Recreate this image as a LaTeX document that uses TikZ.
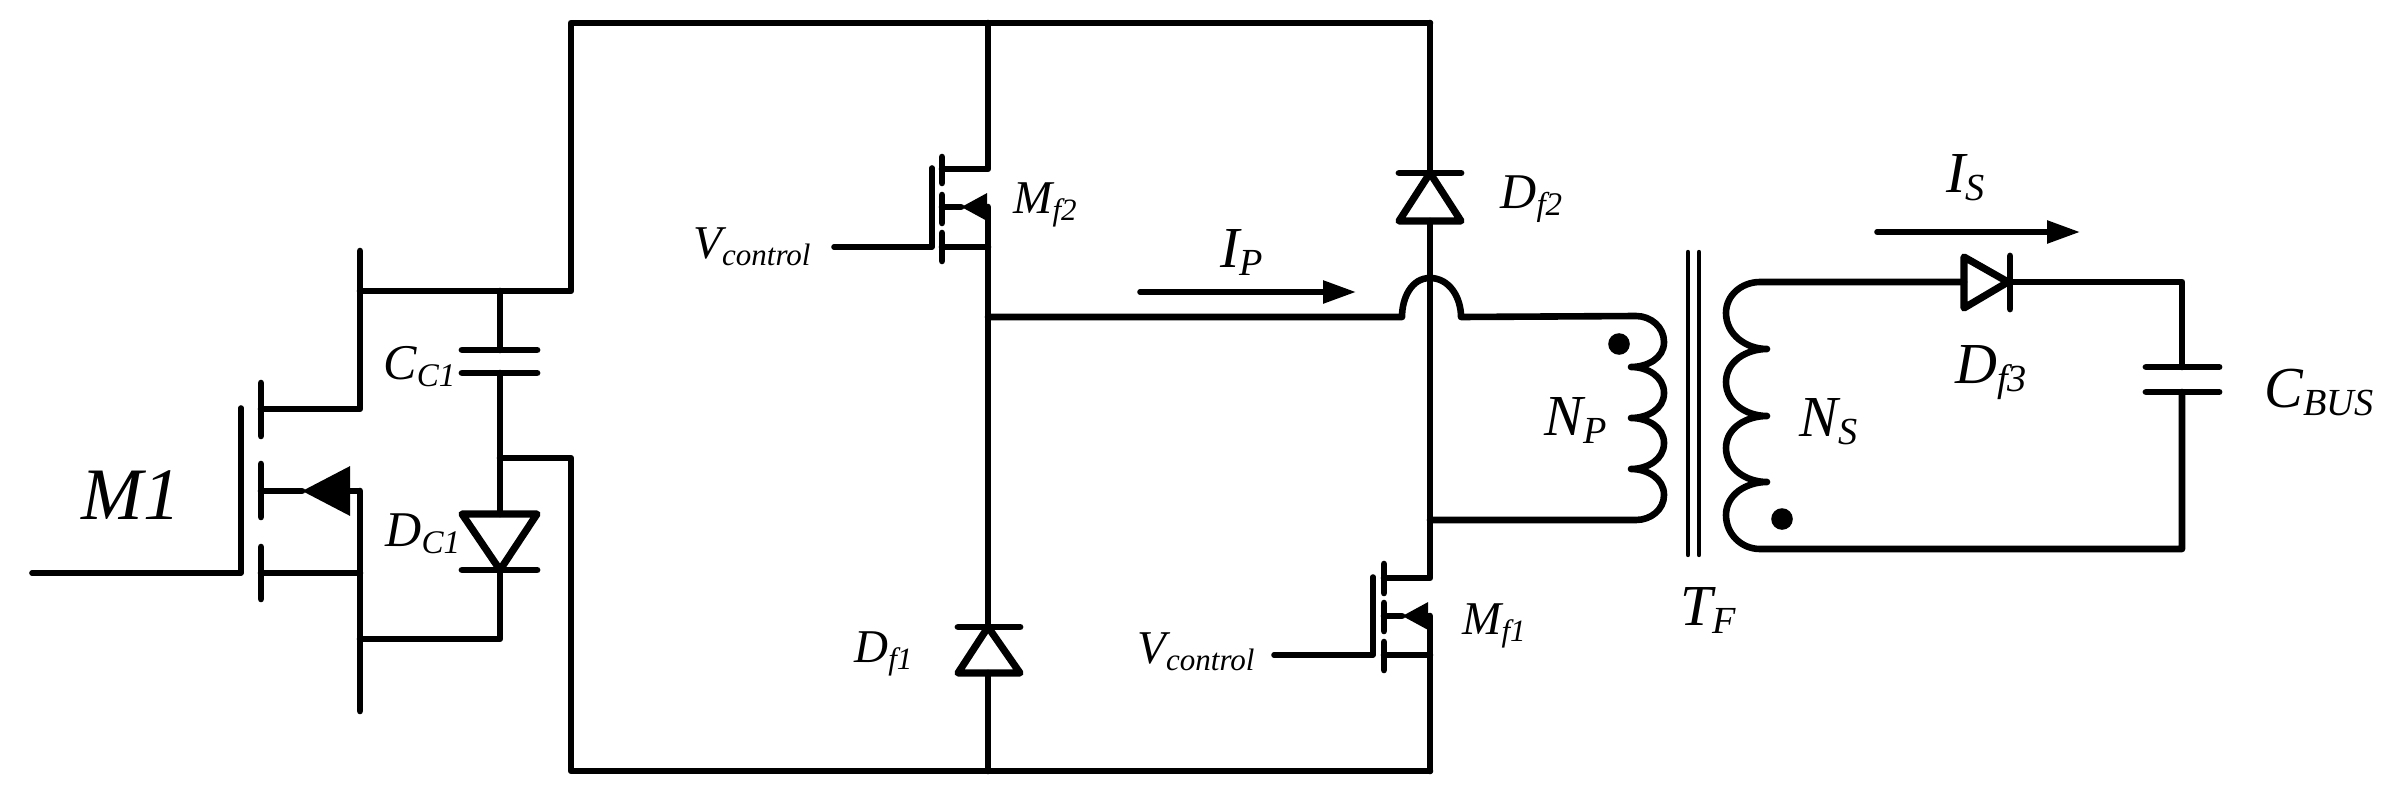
\documentclass[tikz,border=0pt]{standalone}
\usepackage{fontspec}
\setmainfont{Liberation Serif}
\usetikzlibrary{arrows.meta}
\newcommand{\lab}[2]{#1\raisebox{-0.15em}{\scalebox{0.66}{#2}}}

\begin{document}
\begin{tikzpicture}[x=0.5pt, y=-0.5pt,
    wire/.style={line width=3.3pt, line cap=round, line join=round},
    gatewire/.style={line width=2.8pt, line cap=round, line join=round},
    plate/.style={line width=3.4pt, line cap=round},
    diode/.style={line width=3.6pt, line join=round},
    coreline/.style={line width=2.2pt, line cap=round},
    current/.style={line width=2.8pt, line cap=round, -{Triangle[length=16.5pt, width=11pt]}},
    bodyS/.style={line width=3pt, -{Triangle[length=13pt, width=13pt]}},
    bodyL/.style={line width=3.3pt, -{Triangle[length=24pt, width=24pt]}},
    txt/.style={inner sep=0pt, anchor=base west, font=\itshape\fontsize{23.5}{24}\selectfont},
    txtm/.style={txt, font=\itshape\fontsize{25}{26}\selectfont},
    txtl/.style={txt, font=\itshape\fontsize{29}{30}\selectfont}]
\useasboundingbox (0,0) rectangle (2386,797);

% Rails
\coordinate (topl) at (571,23);
\coordinate (topm) at (988,23);
\coordinate (topr) at (1430,23);
\coordinate (botl) at (571,771);
\coordinate (botm) at (988,771);
\coordinate (botr) at (1430,771);
\coordinate (upl) at (571,291);
\coordinate (lowl) at (571,458);

% M1
\coordinate (gin) at (32,573);
\coordinate (gcor) at (241,573);
\coordinate (gtop) at (241,408);
\coordinate (cha) at (261,383);
\coordinate (chb) at (261,436);
\coordinate (chc) at (261,464);
\coordinate (chd) at (261,517);
\coordinate (che) at (261,547);
\coordinate (chf) at (261,599);
\coordinate (dch) at (261,409);
\coordinate (dcor) at (360,409);
\coordinate (dtop) at (360,251);
\coordinate (dup) at (360,291);
\coordinate (bch) at (261,491);
\coordinate (btip) at (302,491);
\coordinate (bsrc) at (360,491);
\coordinate (sch) at (261,573);
\coordinate (ssrc) at (360,573);
\coordinate (sbot) at (360,711);
\coordinate (slow) at (360,639);

\draw[gatewire] (gin) -- (gcor) -- (gtop);
\draw[wire] (cha) -- (chb);
\draw[wire] (chc) -- (chd);
\draw[wire] (che) -- (chf);
\draw[wire] (dch) -- (dcor) -- (dtop);
\draw[wire] (bch) -- (btip);
\draw[bodyL] (bsrc) -- (btip);
\draw[wire] (bsrc) -- (sbot);
\draw[wire] (sch) -- (ssrc);

% Clamp branch
\coordinate (ctop) at (500,291);
\coordinate (cpa) at (500,350);
\coordinate (cpb) at (500,373);
\coordinate (cpal) at (462,350);
\coordinate (cpar) at (537,350);
\coordinate (cpbl) at (462,373);
\coordinate (cpbr) at (537,373);
\coordinate (cmid) at (500,458);
\coordinate (dal) at (462,514);
\coordinate (dar) at (537,514);
\coordinate (dat) at (500,514);
\coordinate (dak) at (500,570);
\coordinate (dkl) at (462,570);
\coordinate (dkr) at (537,570);
\coordinate (cbot) at (500,639);

\draw[wire] (dup) -- (upl) -- (topl) -- (topr);
\draw[wire] (ctop) -- (cpa);
\draw[plate] (cpal) -- (cpar);
\draw[plate] (cpbl) -- (cpbr);
\draw[wire] (cpb) -- (dat);
\draw[diode] (dal) -- (dar) -- (dak) -- cycle;
\draw[plate] (dkl) -- (dkr);
\draw[wire] (dak) -- (cbot) -- (slow);
\draw[wire] (cmid) -- (lowl) -- (botl) -- (botr);

% Mf2
\coordinate (vtwo) at (834,247);
\coordinate (gtwo) at (932,247);
\coordinate (gtwot) at (932,168);
\coordinate (twa) at (942,157);
\coordinate (twb) at (942,183);
\coordinate (twc) at (942,195);
\coordinate (twd) at (942,223);
\coordinate (twe) at (942,233);
\coordinate (twf) at (942,261);
\coordinate (twdr) at (942,169);
\coordinate (twdw) at (988,169);
\coordinate (twbo) at (942,207);
\coordinate (twti) at (961,207);
\coordinate (twbw) at (988,207);
\coordinate (twso) at (942,247);
\coordinate (twsw) at (988,247);

\draw[gatewire] (vtwo) -- (gtwo) -- (gtwot);
\draw[wire] (twa) -- (twb);
\draw[wire] (twc) -- (twd);
\draw[wire] (twe) -- (twf);
\draw[wire] (topm) -- (twdw) -- (twdr);
\draw[wire] (twbo) -- (twti);
\draw[bodyS] (twbw) -- (twti);
\draw[wire] (twso) -- (twsw);

% Df1
\coordinate (dfak) at (988,627);
\coordinate (dfal) at (958,627);
\coordinate (dfar) at (1020,627);
\coordinate (dfbl) at (958,673);
\coordinate (dfbr) at (1020,673);
\coordinate (dfbm) at (988,673);

\draw[wire] (twbw) -- (dfak);
\draw[plate] (dfal) -- (dfar);
\draw[diode] (dfak) -- (dfbl) -- (dfbr) -- cycle;
\draw[wire] (dfbm) -- (botm);

% Df2
\coordinate (dgak) at (1430,173);
\coordinate (dgal) at (1399,173);
\coordinate (dgar) at (1461,173);
\coordinate (dgbl) at (1399,221);
\coordinate (dgbr) at (1461,221);
\coordinate (dgbm) at (1430,221);

\draw[wire] (topr) -- (dgak);
\draw[plate] (dgal) -- (dgar);
\draw[diode] (dgak) -- (dgbl) -- (dgbr) -- cycle;

% Mf1
\coordinate (vone) at (1274,655);
\coordinate (gone) at (1373,655);
\coordinate (gonet) at (1373,577);
\coordinate (ona) at (1384,564);
\coordinate (onb) at (1384,593);
\coordinate (onc) at (1384,603);
\coordinate (ond) at (1384,631);
\coordinate (one) at (1384,642);
\coordinate (onf) at (1384,670);
\coordinate (ondr) at (1384,578);
\coordinate (ondw) at (1430,578);
\coordinate (onbo) at (1384,616);
\coordinate (onti) at (1402,616);
\coordinate (onbw) at (1430,616);
\coordinate (onso) at (1384,655);
\coordinate (onsw) at (1430,655);

\draw[gatewire] (vone) -- (gone) -- (gonet);
\draw[wire] (ona) -- (onb);
\draw[wire] (onc) -- (ond);
\draw[wire] (one) -- (onf);
\draw[wire] (dgbm) -- (ondw) -- (ondr);
\draw[wire] (onbo) -- (onti);
\draw[bodyS] (onbw) -- (onti);
\draw[wire] (onso) -- (onsw);
\draw[wire] (onbw) -- (botr);

% Primary
\coordinate (jin) at (988,317);
\coordinate (jl) at (1402,317);
\coordinate (jt) at (1430,278);
\coordinate (jr) at (1461,317);
\coordinate (npa) at (1636,316);
\coordinate (npb) at (1664,342);
\coordinate (npc) at (1631,367);
\coordinate (npd) at (1664,393);
\coordinate (npe) at (1631,418);
\coordinate (npf) at (1664,443);
\coordinate (npg) at (1631,469);
\coordinate (nph) at (1664,495);
\coordinate (npi) at (1636,520);
\coordinate (npin) at (1430,520);

\draw[wire] (jin) -- (jl) to[out=90, in=180] (jt) to[out=0, in=90] (jr) -- (npa)
    to[out=0, in=90] (npb) to[out=-90, in=0] (npc)
    to[out=0, in=90] (npd) to[out=-90, in=0] (npe)
    to[out=0, in=90] (npf) to[out=-90, in=0] (npg)
    to[out=0, in=90] (nph) to[out=-90, in=0] (npi) -- (npin);
\fill (1619,344) circle (5.4pt);

% Core
\coordinate (cora) at (1688,252);
\coordinate (corb) at (1688,555);
\coordinate (corc) at (1699,252);
\coordinate (cord) at (1699,555);

\draw[coreline] (cora) -- (corb);
\draw[coreline] (corc) -- (cord);

% Secondary
\coordinate (nsa) at (1760,282);
\coordinate (nsb) at (1726,313);
\coordinate (nsc) at (1767,349);
\coordinate (nsd) at (1726,382);
\coordinate (nse) at (1767,416);
\coordinate (nsf) at (1726,448);
\coordinate (nsg) at (1767,482);
\coordinate (nsh) at (1726,515);
\coordinate (nsi) at (1760,549);
\coordinate (ota) at (1964,282);
\coordinate (otak) at (2008,282);
\coordinate (ota1) at (1964,257);
\coordinate (ota2) at (1964,308);
\coordinate (otk1) at (2010,256);
\coordinate (otk2) at (2010,309);
\coordinate (otr) at (2182,282);
\coordinate (cbt) at (2182,367);
\coordinate (cbb) at (2182,392);
\coordinate (cb1) at (2146,367);
\coordinate (cb2) at (2219,367);
\coordinate (cb3) at (2146,392);
\coordinate (cb4) at (2219,392);
\coordinate (obt) at (2182,549);

\draw[wire] (ota) -- (nsa)
    to[out=180, in=90] (nsb) to[out=-90, in=180] (nsc)
    to[out=180, in=90] (nsd) to[out=-90, in=180] (nse)
    to[out=180, in=90] (nsf) to[out=-90, in=180] (nsg)
    to[out=180, in=90] (nsh) to[out=-90, in=180] (nsi) -- (obt) -- (cbb);
\draw[diode] (ota1) -- (ota2) -- (otak) -- cycle;
\draw[plate] (otk1) -- (otk2);
\draw[wire] (otak) -- (otr) -- (cbt);
\draw[plate] (cb1) -- (cb2);
\draw[plate] (cb3) -- (cb4);
\fill (1782,519) circle (5.4pt);

% Current arrows
\coordinate (ipa) at (1140,292);
\coordinate (ipb) at (1356,292);
\coordinate (isa) at (1877,232);
\coordinate (isb) at (2080,232);

\draw[current] (ipa) -- (ipb);
\draw[current] (isa) -- (isb);

% Labels
\node[txt, font=\itshape\fontsize{37}{38}\selectfont] (mone) at (81,519) {M1};
\node[txtm] (ccone) at (383,379) {\lab{C}{C1}};
\node[txtm] (dcone) at (385,546) {\lab{D}{C1}};
\node[txt] (vctwo) at (693,258) {\lab{V}{control}};
\node[txt] (mftwo) at (1013,213) {\lab{M}{f2}};
\node[txt] (dfone) at (854,662) {\lab{D}{f1}};
\node[txt] (vcone) at (1137,663) {\lab{V}{control}};
\node[txt] (mfone) at (1462,634) {\lab{M}{f1}};
\node[txtm] (dftwo) at (1500,208) {\lab{D}{f2}};
\node[txtl] (ip) at (1220,267) {\lab{I}{P}};
\node[txtl] (is) at (1946,192) {\lab{I}{S}};
\node[txtl] (dfthree) at (1955,383) {\lab{D}{f3}};
\node[txtl] (cbus) at (2264,407) {\lab{C}{BUS}};
\node[txtl] (np) at (1544,435) {\lab{N}{P}};
\node[txtl] (ns) at (1799,436) {\lab{N}{S}};
\node[txtl] (tf) at (1680,625) {\lab{T}{F}};

\end{tikzpicture}
\end{document}
